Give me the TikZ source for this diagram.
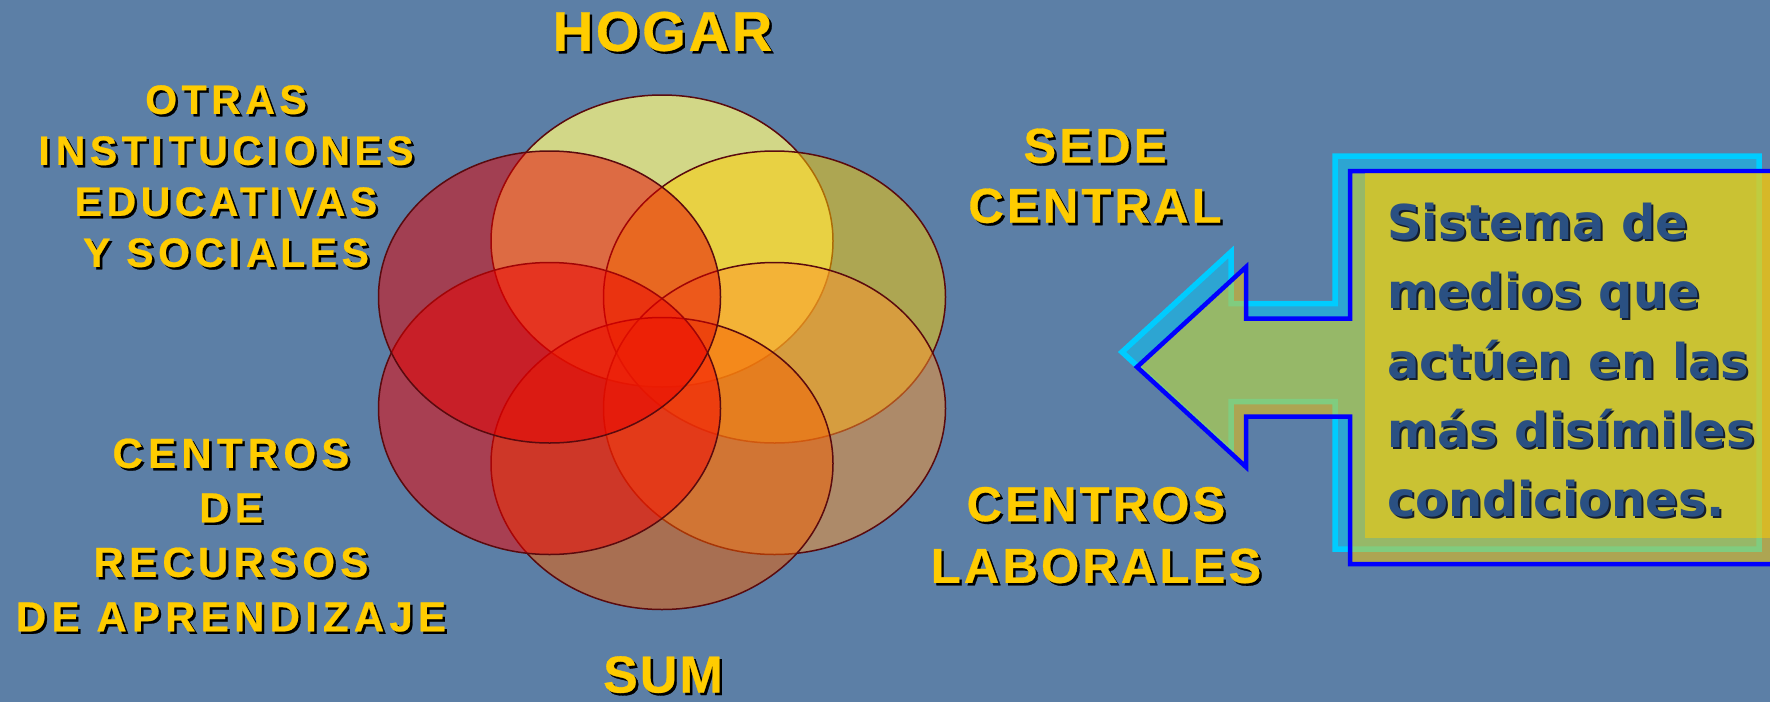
\documentclass[tikz,border=0pt]{standalone}
\usepackage{fontspec}
\setmainfont{Liberation Sans}
\newfontfamily\lblfont{Liberation Sans}
\newfontfamily\boxfont{DejaVu Sans}

\definecolor{bg}{RGB}{92,127,166}
\definecolor{lblyellow}{RGB}{255,204,0}
\definecolor{ring}{RGB}{90,10,14}
\definecolor{cTop}{RGB}{250,245,125}
\definecolor{cUR}{RGB}{255,205,0}
\definecolor{cLR}{RGB}{255,150,45}
\definecolor{cB}{RGB}{245,97,0}
\definecolor{cLL}{RGB}{245,0,0}
\definecolor{cUL}{RGB}{232,0,0}
\definecolor{cyanline}{RGB}{0,204,255}
\definecolor{blueline}{RGB}{0,0,255}
\definecolor{calloutfill}{RGB}{255,204,0}
\definecolor{boxtext}{RGB}{42,80,130}
\definecolor{boxshadow}{RGB}{20,30,45}

\newcommand\shd[1]{\leavevmode\rlap{\kern2.5pt\raisebox{-2.5pt}{\textcolor{black}{#1}}}#1}
\newcommand\bshd[1]{\leavevmode\rlap{\kern2pt\raisebox{-2pt}{\textcolor{boxshadow}{#1}}}#1}
\newcommand\gI{I\kern6pt}

\tikzset{
  venn/.style={draw=ring, line width=1.5pt, fill=#1, fill opacity=0.5},
  lbltxt/.style={text=lblyellow, align=center, inner sep=0pt, anchor=north},
  calloutA/.style={draw=cyanline, line width=5.5pt, fill=cyanline, fill opacity=0.5, line join=miter},
  calloutB/.style={draw=blueline, line width=4.5pt, fill=calloutfill, fill opacity=0.5, line join=miter},
  boxtxt/.style={text=boxtext, align=left, inner sep=0pt, anchor=north west,
    font=\boxfont\bfseries\fontsize{48}{69.3}\selectfont}
}

\begin{document}
\begin{tikzpicture}[x=1pt,y=-1pt]
\useasboundingbox (0,0) rectangle (1770,702);
\fill[bg] (0,0) rectangle (1770,702);

% six overlapping ellipses
\path[venn=cTop, fill opacity=0.75] (662,241) ellipse [x radius=171pt, y radius=146pt];
\path[venn=cUR] (774.5,297) ellipse [x radius=171pt, y radius=146pt];
\path[venn=cLR] (774.5,408.5) ellipse [x radius=171pt, y radius=146pt];
\path[venn=cB] (662,463.5) ellipse [x radius=171pt, y radius=146pt];
\path[venn=cLL] (549.5,408.5) ellipse [x radius=171pt, y radius=146pt];
\path[venn=cUL] (549.5,297) ellipse [x radius=171pt, y radius=146pt];

% arrow callouts
\path[calloutA] (1122,352) -- (1231,252) -- (1231,303.5) -- (1335,303.5) -- (1335,156) -- (1759,156)
  -- (1759,549) -- (1335,549) -- (1335,401.5) -- (1231,401.5) -- (1231,452) -- cycle;
\path[calloutB] (1137,367) -- (1246,267) -- (1246,318.5) -- (1350,318.5) -- (1350,171) -- (1790,171)
  -- (1790,564) -- (1350,564) -- (1350,416.5) -- (1246,416.5) -- (1246,467) -- cycle;
\fill[calloutfill, fill opacity=0.5] (1365,173) rectangle (1790,538);

\node[boxtxt] (medios) at (1387,203)
  {\bshd{Sistema de}\\ \bshd{medios que}\\ \bshd{actúen en las}\\ \bshd{más disímiles}\\ \bshd{condiciones.}};

% labels
\node[lbltxt, font=\lblfont\bfseries\fontsize{56}{60}\selectfont\addfontfeature{LetterSpace=5,FakeBold=0.6}] (hogar) at (662.5,11.5) {\shd{HOGAR}};
\node[lbltxt, font=\lblfont\bfseries\fontsize{41}{51}\selectfont\addfontfeature{LetterSpace=11,FakeBold=0.6}] (otras) at (226,85)
  {\shd{OTRAS}\\ \shd{\gI NST\gI TUC\gI ONES}\\ \shd{EDUCAT\gI VAS}\\ \shd{Y SOC\gI ALES}};
\node[lbltxt, font=\lblfont\bfseries\fontsize{49}{60}\selectfont\addfontfeature{LetterSpace=6.5,FakeBold=0.6}] (sede) at (1095,128.3)
  {\shd{SEDE}\\ \shd{CENTRAL}};
\node[lbltxt, font=\lblfont\bfseries\fontsize{49}{61.7}\selectfont\addfontfeature{LetterSpace=6.5,FakeBold=0.6}] (laborales) at (1096,486.7)
  {\shd{CENTROS}\\ \shd{LABORALES}};
\node[lbltxt, font=\lblfont\bfseries\fontsize{42}{54.5}\selectfont\addfontfeature{LetterSpace=12.5,FakeBold=0.6}] (recursos) at (231,438.3)
  {\shd{CENTROS}\\ \shd{DE}\\ \shd{RECURSOS}\\ \shd{DE APREND\gI ZAJE}};
\node[lbltxt, font=\lblfont\bfseries\fontsize{52}{60}\selectfont\addfontfeature{LetterSpace=4,FakeBold=0.6}] (sum) at (663,656) {\shd{SUM}};
\end{tikzpicture}
\end{document}
